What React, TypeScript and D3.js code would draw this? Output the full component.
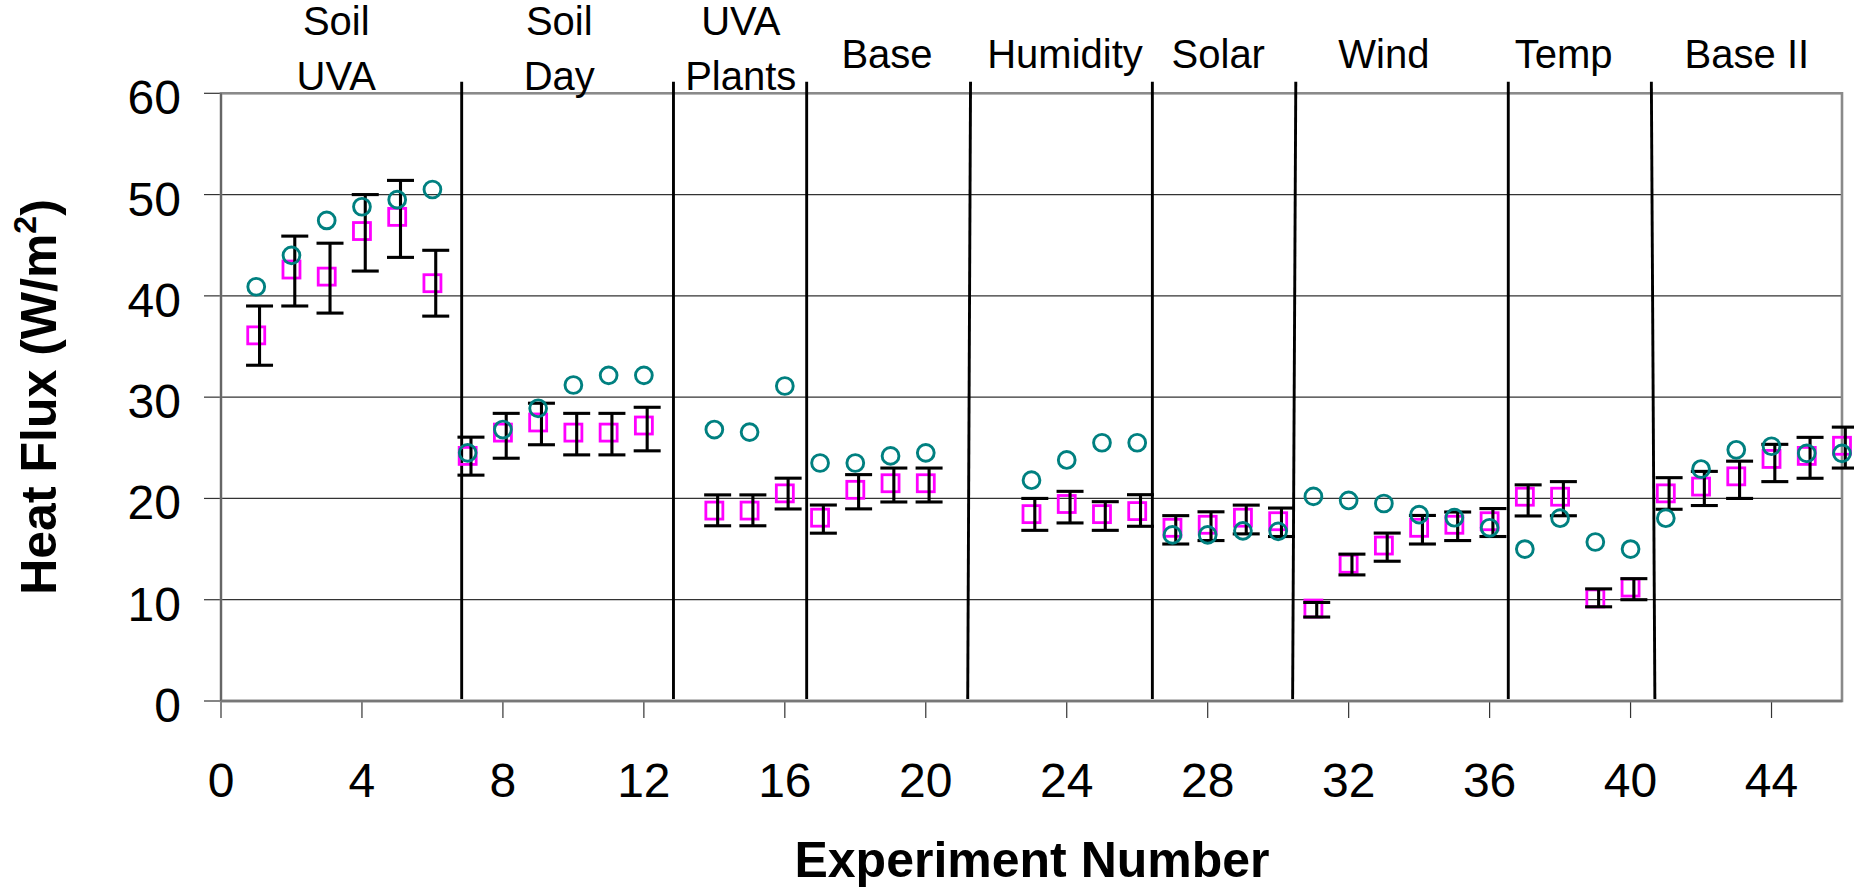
import React from "react";
import * as d3 from "d3";

// ---- data ----
const experiments = [1, 2, 3, 4, 5, 6, 7, 8, 9, 10, 11, 12, 14, 15, 16, 17, 18, 19, 20, 23, 24, 25, 26, 27, 28, 29, 30, 31, 32, 33, 34, 35, 36, 37, 38, 39, 40, 41, 42, 43, 44, 45, 46];
const circleSeries = [40.9, 44.0, 47.45, 48.8, 49.5, 50.5, 24.5, 26.8, 28.9, 31.2, 32.15, 32.15, 26.8, 26.55, 31.1, 23.5, 23.5, 24.2, 24.5, 21.8, 23.8, 25.5, 25.5, 16.4, 16.4, 16.8, 16.75, 20.2, 19.8, 19.5, 18.4, 18.1, 17.1, 15.0, 18.05, 15.7, 15.0, 18.05, 22.9, 24.8, 25.15, 24.45, 24.45];
const squareSeries = [36.1, 42.6, 41.9, 46.4, 47.8, 41.25, 24.2, 26.5, 27.5, 26.5, 26.5, 27.2, 18.8, 18.8, 20.5, 18.1, 20.85, 21.5, 21.5, 18.45, 19.45, 18.45, 18.75, 17.1, 17.4, 18.1, 17.75, 9.13, 13.55, 15.35, 17.1, 17.4, 17.75, 20.17, 20.17, 10.13, 11.2, 20.5, 21.17, 22.18, 23.9, 24.2, 25.2];
const errHigh = [39.0, 45.9, 45.2, 50.0, 51.4, 44.5, 26.05, 28.4, 29.4, 28.4, 28.4, 29.0, 20.35, 20.35, 22.0, 19.35, 22.35, 23.0, 23.0, 20.0, 20.7, 19.68, 20.37, 18.3, 18.68, 19.34, 19.05, 9.73, 14.5, 16.58, 18.32, 18.66, 19.0, 21.34, 21.66, 11.07, 12.08, 22.05, 22.67, 23.68, 25.34, 26.03, 27.04];
const errLow = [33.15, 39.0, 38.3, 42.45, 43.8, 38.0, 22.3, 23.97, 25.3, 24.3, 24.3, 24.7, 17.3, 17.3, 18.96, 16.57, 18.97, 19.65, 19.65, 16.85, 17.58, 16.85, 17.25, 15.5, 15.84, 16.5, 16.24, 8.29, 12.45, 13.8, 15.5, 15.84, 16.24, 18.27, 18.29, 9.3, 10.0, 18.93, 19.3, 20.0, 21.66, 21.99, 23.0];

const xTicks = [0, 4, 8, 12, 16, 20, 24, 28, 32, 36, 40, 44];
const yTicks = [0, 10, 20, 30, 40, 50, 60];

const groupLabels = [["Soil", "UVA"], ["Soil", "Day"], ["UVA", "Plants"], ["Base"], ["Humidity"], ["Solar"], ["Wind"], ["Temp"], ["Base II"]];
const groupCenters = [3.27, 9.6, 14.75, 18.9, 23.95, 28.3, 33.0, 38.1, 43.3];
const dividerTop = [6.83, 12.84, 16.62, 21.27, 26.43, 30.5, 36.53, 40.59];
const dividerBottom = [6.83, 12.84, 16.62, 21.19, 26.43, 30.41, 36.53, 40.69];

const FONT = "'Liberation Sans', Arial, Helvetica, sans-serif";

export default function App() {
  const W = 1854;
  const H = 889;
  const left = 221;
  const right = 1842;
  const top = 93.3;
  const bottom = 701;

  const x = d3.scaleLinear().domain([0, 46]).range([left, right]);
  const y = d3.scaleLinear().domain([0, 60]).range([bottom, top]);

  const barOffset = 3.3;
  const capHalf = 13.5;
  const sq = 17;
  const r = 8.4;

  return (
    <div style={{ position: "absolute", left: 0, top: 0 }}>
      <svg width={W} height={H} style={{ display: "block", background: "#fff" }} fontFamily={FONT}>
        {/* gridlines */}
        {yTicks.filter((t) => t > 0 && t < 60).map((t) => (
          <line key={"g" + t} x1={left} x2={right} y1={y(t)} y2={y(t)} stroke="#333" strokeWidth={1.2} />
        ))}
        {/* y ticks */}
        {yTicks.map((t) => (
          <line key={"yt" + t} x1={left - 17} x2={left} y1={y(t)} y2={y(t)} stroke="#333" strokeWidth={1.2} />
        ))}
        {/* x ticks */}
        {xTicks.map((t) => (
          <line key={"xt" + t} x1={x(t)} x2={x(t)} y1={bottom} y2={bottom + 17} stroke="#333" strokeWidth={1.2} />
        ))}
        {/* plot border */}
        <rect x={left} y={top} width={right - left} height={bottom - top} fill="none" stroke="#8a8a8a" strokeWidth={2.6} />
        <line x1={left} x2={left} y1={top} y2={bottom} stroke="#666" strokeWidth={2} />
        <line x1={left} x2={right} y1={bottom} y2={bottom} stroke="#777" strokeWidth={2.4} />

        {/* dividers */}
        {dividerTop.map((d, i) => (
          <line key={"d" + i} x1={x(d)} x2={x(dividerBottom[i])} y1={81.7} y2={bottom - 2} stroke="#000" strokeWidth={2.9} />
        ))}

        {/* squares */}
        {experiments.map((e, i) => (
          <rect key={"s" + e} x={x(e) - sq / 2} y={y(squareSeries[i]) - sq / 2} width={sq} height={sq} fill="none" stroke="#ff00ff" strokeWidth={2.8} />
        ))}
        {/* error bars */}
        {experiments.map((e, i) => {
          const bx = x(e) + barOffset;
          return (
            <g key={"e" + e} stroke="#000" strokeWidth={3.1}>
              <line x1={bx} x2={bx} y1={y(errHigh[i])} y2={y(errLow[i])} />
              <line x1={bx - capHalf} x2={bx + capHalf} y1={y(errHigh[i])} y2={y(errHigh[i])} />
              <line x1={bx - capHalf} x2={bx + capHalf} y1={y(errLow[i])} y2={y(errLow[i])} />
            </g>
          );
        })}
        {/* circles */}
        {experiments.map((e, i) => (
          <circle key={"c" + e} cx={x(e)} cy={y(circleSeries[i])} r={r} fill="none" stroke="#008080" strokeWidth={2.9} />
        ))}

        {/* y tick labels */}
        {yTicks.map((t) => (
          <text key={"yl" + t} x={181} y={y(t) + 21} fontSize={48} textAnchor="end" fill="#000">
            {t}
          </text>
        ))}
        {/* x tick labels */}
        {xTicks.map((t) => (
          <text key={"xl" + t} x={x(t)} y={796.7} fontSize={48} textAnchor="middle" fill="#000">
            {t}
          </text>
        ))}

        {/* group labels */}
        {groupLabels.map((lines, i) =>
          lines.length === 2 ? (
            <g key={"gl" + i}>
              <text x={x(groupCenters[i])} y={35} fontSize={40} textAnchor="middle">{lines[0]}</text>
              <text x={x(groupCenters[i])} y={90} fontSize={40} textAnchor="middle">{lines[1]}</text>
            </g>
          ) : (
            <text key={"gl" + i} x={x(groupCenters[i])} y={68.3} fontSize={40} textAnchor="middle">{lines[0]}</text>
          )
        )}

        {/* axis titles */}
        <text x={1032} y={877} fontSize={50} fontWeight="bold" textAnchor="middle">Experiment Number</text>
        <text transform={`translate(56, 397) rotate(-90)`} fontSize={50} fontWeight="bold" textAnchor="middle">
          Heat Flux (W/m<tspan fontSize={32} dy={-20}>2</tspan><tspan dy={20}>)</tspan>
        </text>
      </svg>
    </div>
  );
}
